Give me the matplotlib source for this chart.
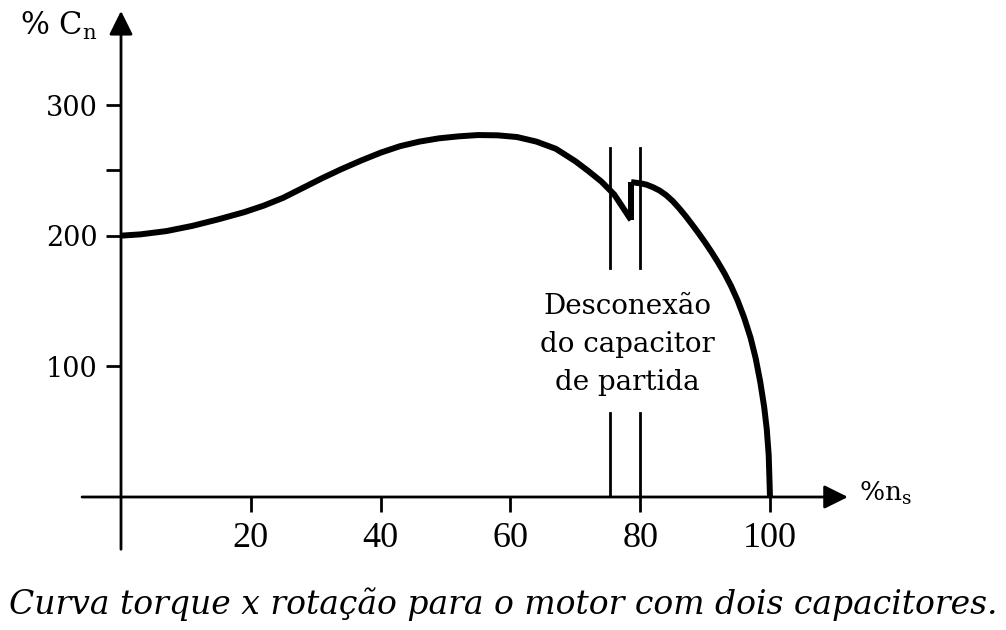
import matplotlib.pyplot as plt

# curva com o capacitor de partida ligado (ate a desconexao)
speed_start = [0, 3, 7, 11, 15, 19, 22, 25, 28, 31, 34, 37, 40, 43, 46, 49,
               52, 55, 58, 61, 64, 67, 70, 72, 74, 76, 78.6]
torque_start = [200, 201, 203.5, 207.5, 212.5, 218, 223, 229, 236.5, 244,
                251, 257.5, 263.5, 268.5, 272, 274.5, 276, 277, 276.8, 275.5,
                272, 266.5, 257, 249.5, 241.5, 231.5, 212]

# curva so com o capacitor permanente
speed_run = [78.6, 80.1, 81, 82, 83, 84, 85, 86, 87, 88, 89, 90, 91, 92, 93,
             94, 95, 96, 97, 97.8, 98.5, 99.1, 99.5, 99.8, 100]
torque_run = [241, 240, 239, 237, 234.5, 231, 226.5, 221, 215, 208.5, 201.8,
              194.8, 187.4, 179.5, 171, 161.5, 150.5, 137.5, 122, 106, 88, 69,
              52, 32, 0]

disconnect_x = [75.4, 80]
disconnect_upper = [175, 267]
disconnect_lower = [0, 64]

xticks = [20, 40, 60, 80, 100]
yticks = [100, 200, 300]
yticks_minor = [250]

serif = ['DejaVu Serif']
plt.rcParams['mathtext.fontset'] = 'dejavuserif'

fig = plt.figure(figsize=(10.06, 6.3), dpi=100)
ax = fig.add_axes([121 / 1006, 133 / 630, 649 / 1006, 392 / 630])
ax.set_xlim(0, 100)
ax.set_ylim(0, 300)
for s in ax.spines.values():
    s.set_visible(False)

# eixos com setas
arrow = dict(arrowstyle='-|>,head_length=1.45,head_width=0.72', lw=2.0,
             color='black', mutation_scale=10, shrinkA=0, shrinkB=0)
ax.annotate('', xy=(112, 0), xytext=(-6, 0), arrowprops=arrow,
            annotation_clip=False)
ax.annotate('', xy=(0, 372), xytext=(0, -40), arrowprops=arrow,
            annotation_clip=False)

ax.set_xticks(xticks)
ax.set_yticks(yticks)
ax.set_yticks(yticks_minor, minor=True)
ax.tick_params(which='both', direction='out', length=11, width=2,
               color='black')
ax.tick_params(axis='x', pad=7)
ax.tick_params(axis='y', pad=6)
for lab in ax.get_xticklabels():
    lab.set_family(['DejaVu Serif Condensed', 'Liberation Serif'])
    lab.set_fontsize(26)
for lab in ax.get_yticklabels():
    lab.set_family(serif)
    lab.set_fontsize(19.5)

ax.plot(speed_start, torque_start, color='black', lw=4.3,
        solid_capstyle='butt', solid_joinstyle='round', clip_on=False)
ax.plot(speed_run, torque_run, color='black', lw=4.3,
        solid_capstyle='butt', solid_joinstyle='round', clip_on=False)
ax.plot([speed_start[-1], speed_run[0]], [torque_start[-1], torque_run[0]],
        color='black', lw=4.3, solid_capstyle='butt')

for xv in disconnect_x:
    ax.plot([xv, xv], disconnect_upper, color='black', lw=2)
    ax.plot([xv, xv], disconnect_lower, color='black', lw=2)

ax.text(78, 117, 'Desconexão\ndo capacitor\nde partida', ha='center',
        va='center', family=serif, fontsize=20, linespacing=1.52)

fig.text(20 / 1006, 1 - 35 / 630, r'% C$_\mathrm{n}$', family=serif,
         fontsize=22, ha='left', va='baseline')
fig.text(859 / 1006, 1 - 493 / 630, r'%n$_\mathrm{s}$', family=serif,
         fontsize=19, ha='left', va='center')

fig.text(503 / 1006, 1 - 604 / 630,
         'Curva torque x rotação para o motor com dois capacitores.',
         family=serif, style='italic', fontsize=23.8,
         ha='center', va='center')

fig.savefig('out.png', dpi=100)
